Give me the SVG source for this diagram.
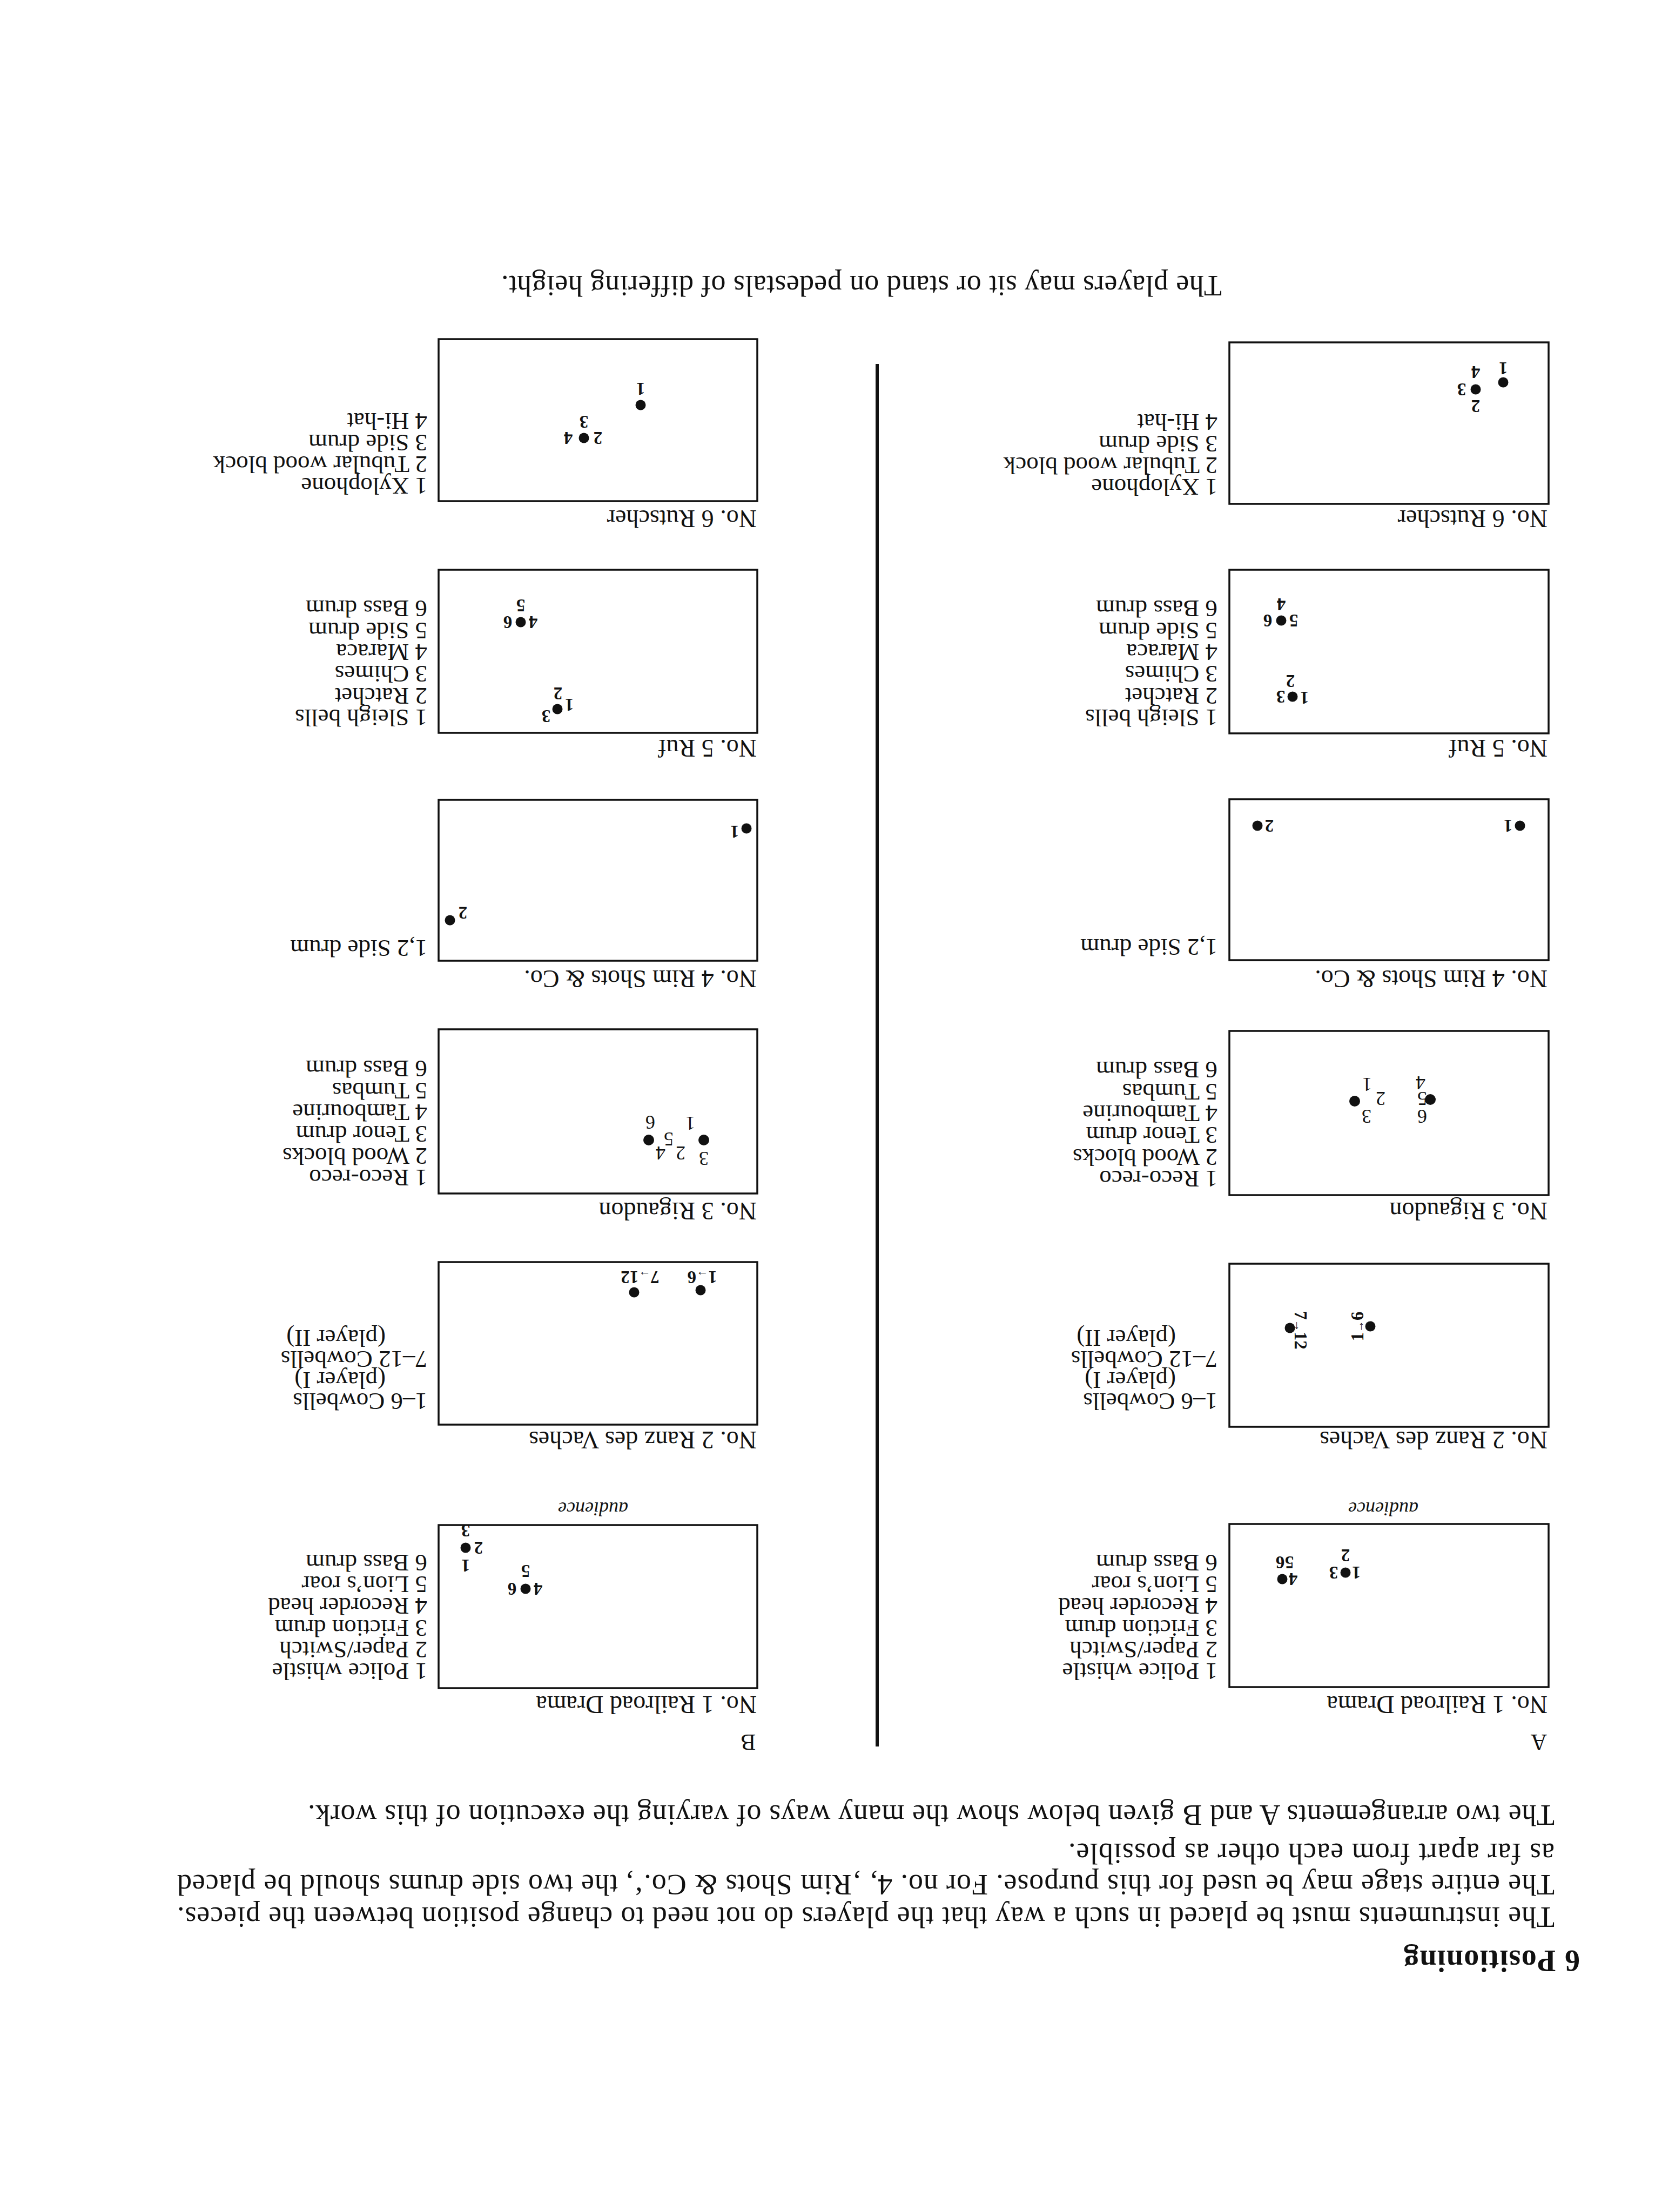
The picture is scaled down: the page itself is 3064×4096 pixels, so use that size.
<svg xmlns="http://www.w3.org/2000/svg" width="3064" height="4096" viewBox="0 0 3064 4096">
<style>
text{font-family:"Liberation Serif","Times New Roman",serif;fill:#111}
.para{font-size:54px}
.head{font-size:56px;font-weight:bold}
.ab{font-size:42px}
.lbl{font-size:46px}
.item{font-size:45px}
.aud{font-size:36px;font-style:italic;text-anchor:middle}
.dl{font-size:33px;font-weight:bold;text-anchor:middle}
.dn{font-size:36px;text-anchor:middle}
.box{fill:none;stroke:#111;stroke-width:3.5}
.dot{fill:#111}
</style>
<rect x="0" y="0" width="3064" height="4096" fill="#fff"/>
<g id="page" transform="rotate(180 1532 2048)">
<g id="intro">
<text class="head" x="139" y="484" textLength="326" lengthAdjust="spacing">6 Positioning</text>
<text class="para" x="186" y="564" textLength="2550" lengthAdjust="spacing">The instruments must be placed in such a way that the players do not need to change position between the pieces.</text>
<text class="para" x="186" y="624" textLength="2550" lengthAdjust="spacing">The entire stage may be used for this purpose. For no. 4, ‚Rim Shots &amp; Co.‘, the two side drums should be placed</text>
<text class="para" x="186" y="682" textLength="900" lengthAdjust="spacing">as far apart from each other as possible.</text>
<text class="para" x="186" y="753" textLength="2308" lengthAdjust="spacing">The two arrangements A and B given below show the many ways of varying the execution of this work.</text>
<text class="ab" x="200" y="884">A</text>
<text class="ab" x="1665" y="884">B</text>
</g>
<g id="connectors">
<line x1="1440" y1="862" x2="1440" y2="3422" stroke="#111" stroke-width="6"/>
</g>
<!-- Column A -->
<g id="A1">
<text class="lbl" x="199" y="955">No. 1 Railroad Drama</text>
<rect class="box" x="197" y="972" width="591" height="302"/>
<text class="item" x="810"><tspan x="810" y="1016">1 Police whistle</tspan><tspan x="810" y="1056">2 Paper/Switch</tspan><tspan x="810" y="1096">3 Friction drum</tspan><tspan x="810" y="1137">4 Recorder head</tspan><tspan x="810" y="1177">5 Lion’s roar</tspan><tspan x="810" y="1217">6 Bass drum</tspan></text>
<circle class="dot" cx="573" cy="1184" r="9.5"/>
<circle class="dot" cx="690" cy="1172" r="9.5"/>
<text class="dl" x="553" y="1195">1</text><text class="dl" x="595" y="1195">3</text><text class="dl" x="573" y="1227">2</text>
<text class="dl" x="670" y="1183">4</text><text class="dl" x="677" y="1214">5</text><text class="dl" x="694" y="1214">6</text>
<text class="aud" x="503" y="1314">audience</text>
</g>
<g id="A2">
<text class="lbl" x="199" y="1445">No. 2 Ranz des Vaches</text>
<rect class="box" x="197" y="1454" width="591" height="302"/>
<text class="item"><tspan x="810" y="1516">1–6 Cowbells</tspan><tspan x="887" y="1555">(player I)</tspan><tspan x="810" y="1594">7–12 Cowbells</tspan><tspan x="887" y="1633">(player II)</tspan></text>
<circle class="dot" cx="527" cy="1640" r="9.5"/>
<circle class="dot" cx="676" cy="1637" r="9.5"/>
<text class="dl" transform="translate(551 1640) rotate(90)" y="11">1<tspan font-size="22">→</tspan>6</text>
<text class="dl" transform="translate(656 1633) rotate(-90)" y="11">7<tspan font-size="22">→</tspan>12</text>
</g>
<g id="A3">
<text class="lbl" x="199" y="1869">No. 3 Rigaudon</text>
<rect class="box" x="197" y="1883" width="591" height="304"/>
<text class="item"><tspan x="810" y="1928">1 Reco-reco</tspan><tspan x="810" y="1968">2 Wood blocks</tspan><tspan x="810" y="2009">3 Tenor drum</tspan><tspan x="810" y="2049">4 Tambourine</tspan><tspan x="810" y="2089">5 Tumbas</tspan><tspan x="810" y="2130">6 Bass drum</tspan></text>
<circle class="dot" cx="556" cy="2057" r="10"/>
<circle class="dot" cx="416" cy="2060" r="10"/>
<text class="dn" x="533" y="2100">1</text><text class="dn" x="508" y="2074">2</text><text class="dn" x="534" y="2041">3</text>
<text class="dn" x="434" y="2103">4</text><text class="dn" x="431" y="2074">5</text><text class="dn" x="431" y="2041">6</text>
</g>
<g id="A4">
<text class="lbl" x="199" y="2299">No. 4 Rim Shots &amp; Co.</text>
<rect class="box" x="197" y="2318" width="591" height="298"/>
<text class="item" x="810" y="2357">1,2 Side drum</text>
<circle class="dot" cx="250" cy="2567" r="9.5"/>
<circle class="dot" cx="736" cy="2567" r="9.5"/>
<text class="dl" x="272" y="2578">1</text><text class="dl" x="714" y="2578">2</text>
</g>
<g id="A5">
<text class="lbl" x="199" y="2726">No. 5 Ruf</text>
<rect class="box" x="197" y="2738" width="591" height="303"/>
<text class="item"><tspan x="810" y="2782">1 Sleigh bells</tspan><tspan x="810" y="2822">2 Ratchet</tspan><tspan x="810" y="2863">3 Chimes</tspan><tspan x="810" y="2903">4 Maraca</tspan><tspan x="810" y="2943">5 Side drum</tspan><tspan x="810" y="2984">6 Bass drum</tspan></text>
<circle class="dot" cx="671" cy="2806" r="9.5"/>
<circle class="dot" cx="692" cy="2947" r="9.5"/>
<text class="dl" x="649" y="2815">1</text><text class="dl" x="693" y="2817">3</text><text class="dl" x="675" y="2846">2</text>
<text class="dl" x="669" y="2958">5</text><text class="dl" x="717" y="2958">6</text><text class="dl" x="692" y="2988">4</text>
</g>
<g id="A6">
<text class="lbl" x="199" y="3151">No. 6 Rutscher</text>
<rect class="box" x="197" y="3163" width="591" height="299"/>
<text class="item"><tspan x="810" y="3209">1 Xylophone</tspan><tspan x="810" y="3249">2 Tubular wood block</tspan><tspan x="810" y="3289">3 Side drum</tspan><tspan x="810" y="3329">4 Hi-hat</tspan></text>
<circle class="dot" cx="281" cy="3388" r="9.5"/>
<circle class="dot" cx="332" cy="3375" r="9.5"/>
<text class="dl" x="281" y="3425">1</text><text class="dl" x="332" y="3418">4</text><text class="dl" x="358" y="3386">3</text><text class="dl" x="332" y="3355">2</text>
</g>
<!-- Column B -->
<g id="B1">
<text class="lbl" x="1663" y="955">No. 1 Railroad Drama</text>
<rect class="box" x="1662" y="970" width="590" height="302"/>
<text class="item"><tspan x="2273" y="1016">1 Police whistle</tspan><tspan x="2273" y="1056">2 Paper/Switch</tspan><tspan x="2273" y="1096">3 Friction drum</tspan><tspan x="2273" y="1137">4 Recorder head</tspan><tspan x="2273" y="1177">5 Lion’s roar</tspan><tspan x="2273" y="1217">6 Bass drum</tspan></text>
<circle class="dot" cx="2202" cy="1230" r="9.5"/>
<circle class="dot" cx="2091" cy="1154" r="9.5"/>
<text class="dl" x="2202" y="1208">1</text><text class="dl" x="2178" y="1241">2</text><text class="dl" x="2202" y="1273">3</text>
<text class="dl" x="2068" y="1165">4</text><text class="dl" x="2091" y="1198">5</text><text class="dl" x="2116" y="1165">6</text>
<text class="aud" x="1966" y="1314">audience</text>
</g>
<g id="B2">
<text class="lbl" x="1663" y="1445">No. 2 Ranz des Vaches</text>
<rect class="box" x="1662" y="1458" width="590" height="301"/>
<text class="item"><tspan x="2273" y="1516">1–6 Cowbells</tspan><tspan x="2350" y="1555">(player I)</tspan><tspan x="2273" y="1594">7–12 Cowbells</tspan><tspan x="2350" y="1633">(player II)</tspan></text>
<circle class="dot" cx="1767" cy="1707" r="9.5"/>
<circle class="dot" cx="1890" cy="1703" r="9.5"/>
<text class="dl" x="1764" y="1742">1<tspan font-size="22">→</tspan>6</text>
<text class="dl" x="1879" y="1742">7<tspan font-size="22">→</tspan>12</text>
</g>
<g id="B3">
<text class="lbl" x="1663" y="1869">No. 3 Rigaudon</text>
<rect class="box" x="1662" y="1886" width="590" height="304"/>
<text class="item"><tspan x="2273" y="1930">1 Reco-reco</tspan><tspan x="2273" y="1970">2 Wood blocks</tspan><tspan x="2273" y="2011">3 Tenor drum</tspan><tspan x="2273" y="2051">4 Tambourine</tspan><tspan x="2273" y="2091">5 Tumbas</tspan><tspan x="2273" y="2132">6 Bass drum</tspan></text>
<circle class="dot" cx="1761" cy="1985" r="10"/>
<circle class="dot" cx="1863" cy="1985" r="10"/>
<text class="dn" x="1761" y="1963">3</text><text class="dn" x="1786" y="2028">1</text><text class="dn" x="1804" y="1973">2</text>
<text class="dn" x="1826" y="1999">5</text><text class="dn" x="1841" y="1973">4</text><text class="dn" x="1860" y="2030">6</text>
</g>
<g id="B4">
<text class="lbl" x="1663" y="2299">No. 4 Rim Shots &amp; Co.</text>
<rect class="box" x="1662" y="2317" width="590" height="298"/>
<text class="item" x="2273" y="2355">1,2 Side drum</text>
<circle class="dot" cx="1682" cy="2562" r="9.5"/>
<circle class="dot" cx="2231" cy="2392" r="9.5"/>
<text class="dl" x="1704" y="2567">1</text><text class="dl" x="2207" y="2417">2</text>
</g>
<g id="B5">
<text class="lbl" x="1663" y="2726">No. 5 Ruf</text>
<rect class="box" x="1662" y="2739" width="590" height="302"/>
<text class="item"><tspan x="2273" y="2782">1 Sleigh bells</tspan><tspan x="2273" y="2822">2 Ratchet</tspan><tspan x="2273" y="2863">3 Chimes</tspan><tspan x="2273" y="2903">4 Maraca</tspan><tspan x="2273" y="2943">5 Side drum</tspan><tspan x="2273" y="2984">6 Bass drum</tspan></text>
<circle class="dot" cx="2032" cy="2783" r="9.5"/>
<circle class="dot" cx="2100" cy="2944" r="9.5"/>
<text class="dl" x="2010" y="2802">1</text><text class="dl" x="2053" y="2781">3</text><text class="dl" x="2031" y="2823">2</text>
<text class="dl" x="2077" y="2955">4</text><text class="dl" x="2124" y="2955">6</text><text class="dl" x="2100" y="2986">5</text>
</g>
<g id="B6">
<text class="lbl" x="1663" y="3151">No. 6 Rutscher</text>
<rect class="box" x="1662" y="3168" width="590" height="300"/>
<text class="item"><tspan x="2273" y="3211">1 Xylophone</tspan><tspan x="2273" y="3251">2 Tubular wood block</tspan><tspan x="2273" y="3291">3 Side drum</tspan><tspan x="2273" y="3331">4 Hi-hat</tspan></text>
<circle class="dot" cx="1878" cy="3346" r="9.5"/>
<circle class="dot" cx="1983" cy="3285" r="9.5"/>
<text class="dl" x="1878" y="3387">1</text><text class="dl" x="1983" y="3326">3</text><text class="dl" x="1957" y="3296">2</text><text class="dl" x="2012" y="3296">4</text>
</g>
<g id="footer">
<text class="para" x="802" y="3585" textLength="1334" lengthAdjust="spacing">The players may sit or stand on pedestals of differing height.</text>
</g>
</g>
</svg>
